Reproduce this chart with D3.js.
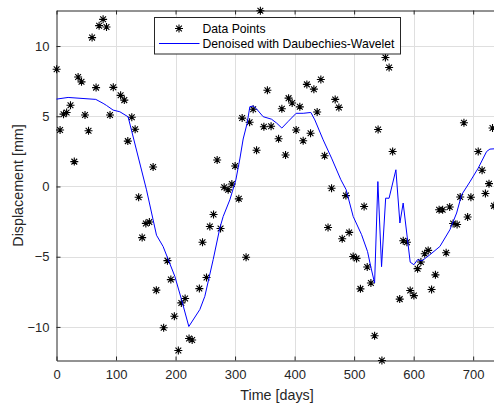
<!DOCTYPE html>
<html>
<head>
<meta charset="utf-8">
<script src="https://d3js.org/d3.v7.min.js"></script>
<style>
  body { margin: 0; background: #fff; }
  svg { display: block; font-family: "Liberation Sans", Arial, sans-serif; }
</style>
</head>
<body>
<svg id="chart" width="494" height="403"></svg>
<script>
// measured points (days, mm)
var dataDays = [0.2, 6, 11.8, 17, 23.5, 29.9, 36.3, 42, 47.9, 53.8, 59.8, 66.5, 71.6, 78.3, 84, 89.9, 95.4,
    107.7, 113.9, 119.8, 126.5, 132.1, 138, 143.9, 150.1, 156, 162.3, 167.7, 180, 186.4, 192.1, 198, 204.7,
    209.7, 216.1, 222.7, 227.9, 240, 245.3, 252, 257.6, 263.8, 269.9, 275.6, 281.7, 288.4, 294.6, 300.1,
    306.3, 311.9, 318.5, 324.4, 330.4, 336.1, 342.5, 348.4, 354.3, 360.5, 373.1, 378.6, 384.8, 389.9, 395.9,
    402.6, 408.8, 414.4, 420.6, 426.8, 432.4, 437.9, 444.1, 450.4, 456.2, 462.1, 468.2, 474.4, 480, 486.2,
    491.7, 498.4, 504.1, 510.6, 516.8, 522, 528.2, 534.4, 540.3, 546.7, 552.6, 558.8, 564.7, 576.6, 582.5,
    588.7, 594.2, 600.4, 606.6, 612.2, 618.6, 624.4, 630.1, 636.6, 642.8, 648.7, 654.6, 660.6, 666.3, 673,
    678.2, 684.5, 690.7, 696.2, 708.5, 715, 720.6, 726.6, 732.5, 735];
var dataValues = [8.35, 4.02, 5.15, 5.27, 5.78, 1.77, 7.8, 7.45, 5.09, 3.97, 10.6, 7.04, 11.45, 11.9, 11.36, 5.09, 7.06,
    6.49, 6.15, 3.23, 4.93, 4.07, -0.77, -3.64, -2.63, -2.53, 1.39, -7.38, -10.06, -5.28, -6.63, -9.24, -11.68,
    -8.29, -7.98, -10.82, -10.93, -7.27, -3.97, -6.48, -2.85, -2.0, 1.89, -2.99, -0.05, -0.24, 0.18, 1.46,
    -0.88, 4.87, -5.04, 4.57, 5.5, 2.58, 12.51, 4.25, 6.85, 4.29, 3.4, 5.53, 2.24, 6.29, 5.94,
    4.02, 5.67, 3.26, 7.27, 3.79, 6.93, 5.3, 7.62, 2.19, -2.92, -0.13, 6.2, 5.63, -3.72, -0.65,
    -3.27, -4.98, -5.12, -7.29, -1.43, -5.73, -6.87, -10.63, 4.06, -12.39, 9.18, 8.47, 2.49, -8.02, -3.86,
    -3.97, -7.41, -7.77, -5.85, -5.38, -4.79, -4.55, -7.34, -6.29, -1.66, -1.66, -4.72, -1.46, -2.64, -2.71,
    -0.75, 4.54, -2.17, -0.77, 2.49, 1.16, -0.5, 0.2, 4.16, -1.38];

// wavelet denoised curve
var denoisedDays = [0, 19.5, 66, 78.3, 84, 95.1, 106.4, 120.3, 151.2, 162.3, 168, 179.1, 198.8, 210, 222.3,
    240.8, 249.2, 263.2, 274.4, 280, 291.2, 301.3, 308, 313.6, 320.3, 324.8, 330.4, 336.1, 347.2, 361.3,
    369.7, 378.6, 388.7, 402.6, 414.4, 427.3, 434, 448, 462.1, 477.7, 486.6, 498.4, 512.5, 522.6, 528.1,
    534.4, 539.9, 546.1, 553, 558.7, 570.2, 576.9, 582.4, 594.2, 600.4, 606.6, 613.8, 627.3, 644.1, 660.9,
    672.2, 680.6, 694.5, 708.5, 722.6, 728.1, 735];
var denoisedValues = [6.22, 6.34, 6.2, 5.92, 5.77, 5.44, 5.32, 4.96, -0.24, -2.37, -3.47, -4.27, -6.4, -8.05, -9.97,
    -8.76, -7.82, -5.21, -2.96, -2.14, -0.95, 0.47, 1.96, 3.38, 4.5, 5.68, 5.73, 5.52, 4.97, 4.79,
    4.52, 4.16, 4.61, 5.21, 5.21, 5.27, 4.74, 3.32, 2.02, 0.48, -0.23, -2.13, -3.43, -4.64, -5.74,
    -6.87, 0.35, -5.71, -0.83, -0.84, 1.19, -2.6, -1.18, -5.39, -5.57, -5.21, -5.3, -4.86, -4.27, -3.08,
    -1.89, -0.59, 0.33, 1.31, 2.49, 2.66, 2.68];

var xTicks = [0, 100, 200, 300, 400, 500, 600, 700];
var yTicks = [-10, -5, 0, 5, 10];
var legendLabels = ["Data Points", "Denoised with Daubechies-Wavelet"];

var svg = d3.select("#chart");
var plotLeft = 56.5, plotRight = 494, plotTop = 10.5, plotBottom = 360.5;
var axisColor = "#262626";

var x = d3.scaleLinear().domain([0, 735]).range([plotLeft, plotRight]);
var y = d3.scaleLinear().domain([-12.39, 12.53]).range([plotBottom, plotTop]);

// grid
svg.append("g")
    .selectAll("line")
    .data(xTicks.slice(1))
    .join("line")
    .attr("x1", function(d) { return Math.round(x(d)) + 0.5; })
    .attr("x2", function(d) { return Math.round(x(d)) + 0.5; })
    .attr("y1", plotTop)
    .attr("y2", plotBottom)
    .attr("stroke", "#dfdfdf");
svg.append("g")
    .selectAll("line")
    .data(yTicks)
    .join("line")
    .attr("x1", plotLeft)
    .attr("x2", plotRight)
    .attr("y1", function(d) { return Math.round(y(d)) + 0.5; })
    .attr("y2", function(d) { return Math.round(y(d)) + 0.5; })
    .attr("stroke", "#dfdfdf");

// axes, ticks inside
var xAxisBottom = d3.axisBottom(x).tickValues(xTicks).tickSizeInner(-4).tickSizeOuter(0).tickPadding(9);
var xAxisTop = d3.axisTop(x).tickValues(xTicks).tickSizeInner(-4).tickSizeOuter(0).tickFormat("");
var yAxisLeft = d3.axisLeft(y).tickValues(yTicks).tickSizeInner(-4).tickSizeOuter(0).tickPadding(7);

function styleAxis(g) {
    g.selectAll("path").attr("stroke", axisColor);
    g.selectAll("line").attr("stroke", axisColor);
    g.selectAll("text").attr("fill", axisColor).attr("font-size", "13px")
        .attr("font-family", "'Liberation Sans', Arial, sans-serif");
}

svg.append("g").attr("transform", "translate(0," + plotBottom + ")").call(xAxisBottom).call(styleAxis);
svg.append("g").attr("transform", "translate(0," + plotTop + ")").call(xAxisTop).call(styleAxis);
svg.append("g").attr("transform", "translate(" + plotLeft + ",0)").call(yAxisLeft).call(styleAxis);

// labels
svg.append("text")
    .attr("x", 277)
    .attr("y", 400)
    .attr("text-anchor", "middle")
    .attr("font-size", "14.3px")
    .attr("fill", axisColor)
    .text("Time [days]");
svg.append("text")
    .attr("transform", "translate(23,185.5) rotate(-90)")
    .attr("text-anchor", "middle")
    .attr("font-size", "14.3px")
    .attr("fill", axisColor)
    .text("Displacement [mm]");

function starPath(r) {
    var q = r * 0.72;
    return "M" + (-r) + ",0L" + r + ",0M0," + (-r) + "L0," + r +
        "M" + (-q) + "," + (-q) + "L" + q + "," + q +
        "M" + (-q) + "," + q + "L" + q + "," + (-q);
}

var points = dataDays.map(function(d, i) { return [d, dataValues[i]]; });
svg.append("g")
    .selectAll("path")
    .data(points)
    .join("path")
    .attr("transform", function(d) { return "translate(" + x(d[0]) + "," + y(d[1]) + ")"; })
    .attr("d", starPath(4))
    .attr("stroke", "#000")
    .attr("stroke-width", 1.1)
    .attr("fill", "none");

var curve = denoisedDays.map(function(d, i) { return [d, denoisedValues[i]]; });
svg.append("path")
    .datum(curve)
    .attr("d", d3.line().x(function(d) { return x(d[0]); }).y(function(d) { return y(d[1]); }))
    .attr("fill", "none")
    .attr("stroke", "#0000ff")
    .attr("stroke-width", 1);

// legend
var legend = svg.append("g");
legend.append("rect")
    .attr("x", 154.5)
    .attr("y", 17.5)
    .attr("width", 246)
    .attr("height", 36.5)
    .attr("fill", "#fff")
    .attr("stroke", axisColor);
legend.append("path")
    .attr("transform", "translate(179,28.5)")
    .attr("d", starPath(4))
    .attr("stroke", "#000")
    .attr("stroke-width", 1.1);
legend.append("line")
    .attr("x1", 159).attr("x2", 199.5)
    .attr("y1", 43.5).attr("y2", 43.5)
    .attr("stroke", "#0000ff");
legend.selectAll("text")
    .data(legendLabels)
    .join("text")
    .attr("x", 202.5)
    .attr("y", function(d, i) { return 32.8 + i * 15.5; })
    .attr("font-size", "12.2px")
    .attr("fill", "#000")
    .text(function(d) { return d; });
</script>
</body>
</html>
